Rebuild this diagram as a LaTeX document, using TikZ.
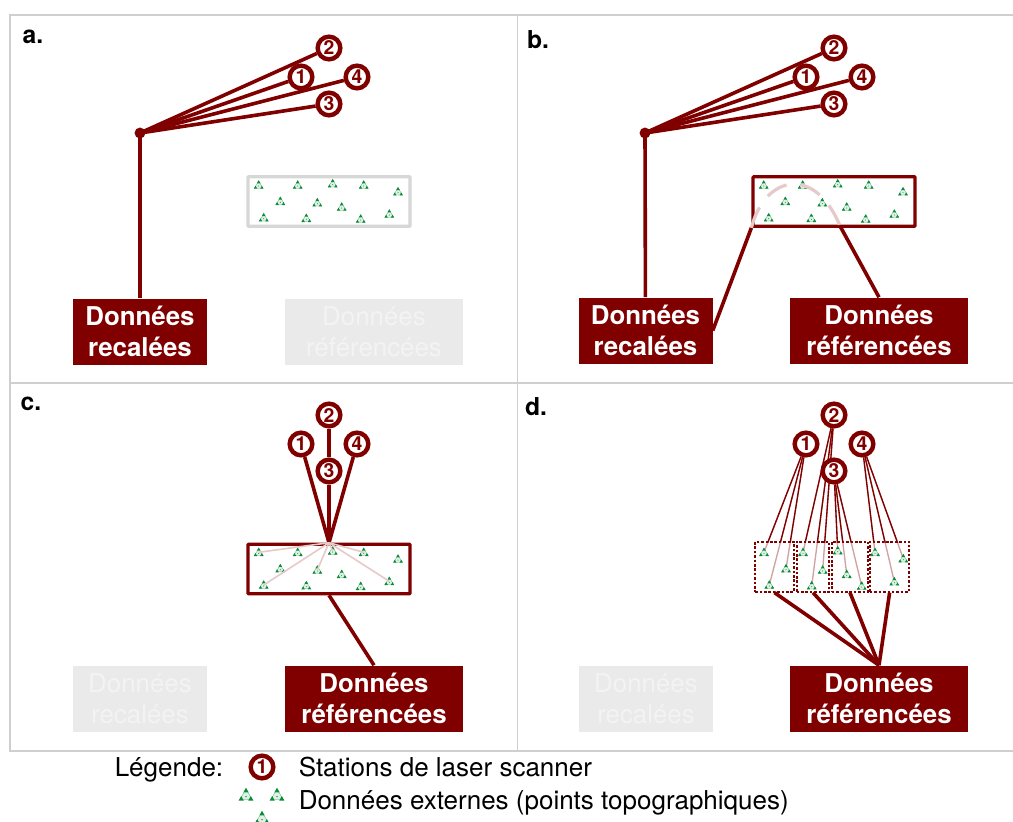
\documentclass[tikz,border=0pt]{standalone}
\usepackage{fontspec}
\setmainfont{TeX Gyre Heros}
\usetikzlibrary{backgrounds}
\definecolor{dk}{HTML}{800000}
\definecolor{pale}{HTML}{E6C9C9}
\definecolor{ghost}{HTML}{EAEAEA}
\definecolor{ghosttext}{HTML}{F3F3F3}
\definecolor{gridc}{HTML}{CFCFCF}
\definecolor{topoc}{HTML}{0A8A3A}
\definecolor{topof}{HTML}{DDF2E2}
\tikzset{
  x=0.75pt,y=-0.75pt,
  station/.style={circle,draw=dk,line width=3.3pt,fill=white,text=dk,inner sep=0pt,minimum size=17pt,font=\fontsize{14.5}{14.5}\selectfont\bfseries},
  lab/.style={inner sep=0pt,minimum height=49.5pt,align=center,font=\fontsize{19.4}{23.4}\selectfont\bfseries},
  rec/.style={lab,minimum width=100.5pt},
  refe/.style={lab,minimum width=133.5pt},
  on/.style={fill=dk,text=white},
  off/.style={fill=ghost,text=ghosttext,font=\fontsize{19.4}{23.4}\selectfont},
  panel/.style={inner sep=0pt,font=\fontsize{18.5}{20}\selectfont\bfseries},
  legendtext/.style={inner sep=0pt,anchor=base west,font=\fontsize{19.5}{22}\selectfont},
  conn/.style={draw=dk,line width=2.7pt},
  faint/.style={draw=pale,line width=1.2pt},
  datab/.style={draw=dk,line width=2.4pt,fill=white,rounded corners=0.5pt,inner sep=0pt,minimum width=121.5pt,minimum height=37pt},
  datag/.style={draw=ghost!92!black,line width=2.4pt,fill=white,rounded corners=0.5pt,inner sep=0pt,minimum width=121.5pt,minimum height=37pt},
  sub/.style={draw=dk,line width=1.4pt,dash pattern=on 1.9pt off 1.4pt,inner sep=0pt,minimum height=37.5pt},
  thin link/.style={draw=dk,line width=1pt},
  thin pale/.style={draw=pale!80!dk,line width=1pt},
  topo/.pic={
    \fill[topof] (-4.6,3.4) -- (4.6,3.4) -- (0,-4.4) -- cycle;
    \draw[topoc!70!white,line width=0.2pt] (-4.2,3.2) -- (4.2,3.2) -- (0,-4) -- cycle;
    \fill[topoc] (-4.9,3.7) -- (-1.5,3.7) -- (-3.2,0.7) -- cycle;
    \fill[topoc] (4.9,3.7) -- (1.5,3.7) -- (3.2,0.7) -- cycle;
    \fill[topoc] (0,-4.8) -- (-1.8,-1.7) -- (1.8,-1.7) -- cycle;
    \fill[topoc] (0,1) circle[radius=0.5];
  }
}
\def\trilist{1/258.7/185,2/297.7/185,3/332.7/183.7,4/363.7/185,5/398/191.7,6/280.3/201.3,7/317.3/202.7,8/341.7/207,9/263.7/217.7,10/306.3/218.3,11/360.7/219,12/389.3/214}
\begin{document}
\begin{tikzpicture}
\useasboundingbox (0,0) rectangle (1013,821);
% frame
\begin{scope}[on background layer]
  \fill[white] (0,0) rectangle (1013,821);
  \draw[gridc,line width=0.8pt] (1013,15) -- (10,15) -- (10,751) -- (1013,751);
  \draw[gridc,line width=0.8pt] (10,383) -- (1013,383);
  \draw[gridc,line width=0.8pt] (517.5,15) -- (517.5,751);
\end{scope}
% panel letters
\node[panel] (pa) at (33,37) {a.};
\node[panel] (pb) at (538,40) {b.};
\node[panel] (pc) at (31,404) {c.};
\node[panel] (pd) at (536,407) {d.};
% stations
\foreach \p/\dx/\dy in {a/0/0,b/505/0,c/0/367,d/505/367}{
  \node[station] (\p1) at (301+\dx,77+\dy) {1};
  \node[station] (\p2) at (329+\dx,48+\dy) {2};
  \node[station] (\p3) at (329+\dx,104+\dy) {3};
  \node[station] (\p4) at (357+\dx,77+\dy) {4};
}
% data boxes
\node[datag] (boxa) at (329,201.5) {};
\node[datab] (boxb) at (834,201.5) {};
\node[datab] (boxc) at (329,569) {};
\node[sub,minimum width=29pt] (s1) at (774.5,566.7) {};
\node[sub,minimum width=24.5pt] (s2) at (813,566.7) {};
\node[sub,minimum width=27.2pt] (s3) at (850,566.7) {};
\node[sub,minimum width=29.5pt] (s4) at (889.6,566.7) {};
% topographic points
\foreach \p/\dx/\dy in {a/0/0,b/505/0,c/0/367.3}{
  \foreach \i/\x/\y in \trilist {
    \coordinate (\p t\i) at (\x+\dx,\y+\dy);
    \pic at (\p t\i) {topo};
  }
}
\foreach \i/\x/\y in {1/764/552.3,2/803/552.3,3/837.7/550.7,4/875/552.3,5/903.3/558.7,6/786/568.7,7/822.7/570,8/846.7/574.3,9/769.3/585,10/811.7/585.7,11/861.7/586,12/894.3/581.7}{
  \coordinate (dt\i) at (\x,\y);
  \pic at (dt\i) {topo};
}
% labels
\node[rec,on] (reca) at (140,331.5) {Données\\recalées};
\node[refe,off] (refa) at (374,331.5) {Données\\référencées};
\node[rec,on] (recb) at (645.5,330.5) {Données\\recalées};
\node[refe,on] (refb) at (879,330.5) {Données\\référencées};
\node[rec,off] (recc) at (140,698.5) {Données\\recalées};
\node[refe,on] (refc) at (374,698.5) {Données\\référencées};
\node[rec,off] (recd) at (646,698.5) {Données\\recalées};
\node[refe,on] (refd) at (879,698.5) {Données\\référencées};
% hubs
\node[circle,fill=dk,inner sep=0pt,minimum size=8.2pt] (huba) at (140,133) {};
\node[circle,fill=dk,inner sep=0pt,minimum size=8.2pt] (hubb) at (645,133) {};
\coordinate (archit) at (840,226);
% pale arc of panel b
\path[draw=pale,line width=2.4pt,dash pattern=on 16.5pt off 10.5pt] (boxb.south west) .. controls (765,175) and (815,165) .. (archit);
% connectors
\begin{scope}[on background layer]
  \foreach \p in {a,b}{
    \foreach \s in {1,2,3,4} \draw[conn] (hub\p.center) -- (\p\s);
    \draw[conn] (hub\p.center) -- (rec\p);
  }
  \draw[conn] (recb.east) -- (boxb.south west);
  \draw[conn] (refb.north) -- (archit);
  \draw[conn] (c1) -- (boxc.north);
  \draw[conn] (c2) -- (c3);
  \draw[conn] (c3) -- (boxc.north);
  \draw[conn] (c4) -- (boxc.north);
  \draw[conn] (boxc.south) -- (refc.north);
  \foreach \i in {1,2,3,4} \draw[conn] (s\i.south) -- (refd.north);
  % thin links of panel d: pale over the whole length, dark above the boxes
  \foreach \st/\a/\b/\c in {1/1/6/9,2/2/7/10,3/3/8/11,4/4/5/12}{
    \draw[thin pale] (d\st) -- (dt\a);
    \draw[thin pale] (d\st) -- (dt\b);
    \draw[thin pale] (d\st) -- (dt\c);
  }
  \begin{scope}
    \clip (700,400) rectangle (1000,542);
    \foreach \st/\a/\b/\c in {1/1/6/9,2/2/7/10,3/3/8/11,4/4/5/12}{
      \draw[thin link] (d\st) -- (dt\a);
      \draw[thin link] (d\st) -- (dt\b);
      \draw[thin link] (d\st) -- (dt\c);
    }
  \end{scope}
\end{scope}
% pale links of panel c
\foreach \i in {1,3,4,7,9,12} \draw[faint] (boxc.north) -- (ct\i);
% legend
\node[legendtext] (lg) at (114.5,776) {Légende:};
\node[station] (lgs) at (262,767) {1};
\node[legendtext] (lgs text) at (298.5,776) {Stations de laser scanner};
\node[legendtext] (lgt text) at (298.5,809) {Données externes (points topographiques)};
\coordinate (lt1) at (246,795);
\coordinate (lt2) at (277,795);
\coordinate (lt3) at (262,818);
\foreach \i in {1,2,3} \pic[scale=1.5] at (lt\i) {topo};
\end{tikzpicture}
\end{document}
